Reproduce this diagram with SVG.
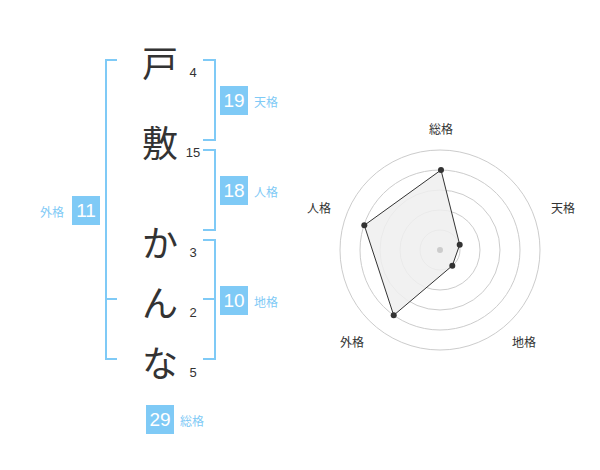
<svg xmlns="http://www.w3.org/2000/svg" width="600" height="470" viewBox="0 0 600 470">
<style>
.ch{font-family:"Noto Sans CJK JP",sans-serif;font-size:36px;fill:#333;text-anchor:middle}
.n{font-family:"Liberation Sans",sans-serif;font-size:13px;fill:#333;text-anchor:middle}
.br{fill:none;stroke:#7fcaf6;stroke-width:2}
.bx{fill:#7fcaf6}
.bt{font-family:"Liberation Sans",sans-serif;font-size:19px;fill:#fff;text-anchor:middle}
.lb{font-family:"Noto Sans CJK JP",sans-serif;font-size:12px;fill:#7fcaf6}
.rl{font-family:"Noto Sans CJK JP",sans-serif;font-size:12px;fill:#333;text-anchor:middle}
.ring{fill:none;stroke:#ccc;stroke-width:1}
.dot{fill:#333}
</style>
<g id="chars">
<text class="ch" x="160" y="77">戸</text>
<text class="ch" x="160" y="157">敷</text>
<text class="ch" x="160" y="257">か</text>
<text class="ch" x="160" y="317">ん</text>
<text class="ch" x="160" y="377">な</text>
<text class="n" x="193" y="77">4</text>
<text class="n" x="193" y="157">15</text>
<text class="n" x="193" y="257">3</text>
<text class="n" x="193" y="317">2</text>
<text class="n" x="193" y="377">5</text>
</g>
<g id="connectors">
<path class="br" d="M117 60H106V359H117M106 299H117"/>
<path class="br" d="M203 60H215V140H203"/>
<path class="br" d="M203 150H215V230H203"/>
<path class="br" d="M203 240H215V359H203M203 299H215"/>
</g>
<g id="tenkaku"><rect class="bx" x="220" y="86" width="28" height="29"/><text class="bt" x="234" y="107">19</text><text class="lb" x="254" y="107">天格</text></g>
<g id="jinkaku"><rect class="bx" x="220" y="176" width="28" height="29"/><text class="bt" x="234" y="197">18</text><text class="lb" x="254" y="197">人格</text></g>
<g id="chikaku"><rect class="bx" x="220" y="286" width="28" height="29"/><text class="bt" x="234" y="307">10</text><text class="lb" x="254" y="307">地格</text></g>
<g id="gaikaku"><rect class="bx" x="72" y="196" width="28" height="29"/><text class="bt" x="86" y="217">11</text><text class="lb" x="40" y="217">外格</text></g>
<g id="sokaku"><rect class="bx" x="146" y="405" width="28" height="29"/><text class="bt" x="160" y="426">29</text><text class="lb" x="180" y="426">総格</text></g>
<g id="radar">
<circle class="ring" cx="440" cy="250" r="20"/>
<circle class="ring" cx="440" cy="250" r="40"/>
<circle class="ring" cx="440" cy="250" r="60"/>
<circle class="ring" cx="440" cy="250" r="80"/>
<circle class="ring" cx="440" cy="250" r="100"/>
<polygon points="441,170 459.7,244.7 452.3,265.7 393.7,315.3 364.3,225.3" fill="#eee" fill-opacity="0.85" stroke="#333" stroke-width="1"/>
<circle cx="440" cy="250" r="3" fill="#ccc"/>
<circle class="dot" cx="441" cy="170" r="3"/>
<circle class="dot" cx="459.7" cy="244.7" r="3"/>
<circle class="dot" cx="452.3" cy="265.7" r="3"/>
<circle class="dot" cx="393.7" cy="315.3" r="3"/>
<circle class="dot" cx="364.3" cy="225.3" r="3"/>
<text class="rl" x="441" y="134">総格</text>
<text class="rl" x="563" y="213">天格</text>
<text class="rl" x="524" y="347">地格</text>
<text class="rl" x="352" y="347">外格</text>
<text class="rl" x="319" y="213">人格</text>
</g>
</svg>
